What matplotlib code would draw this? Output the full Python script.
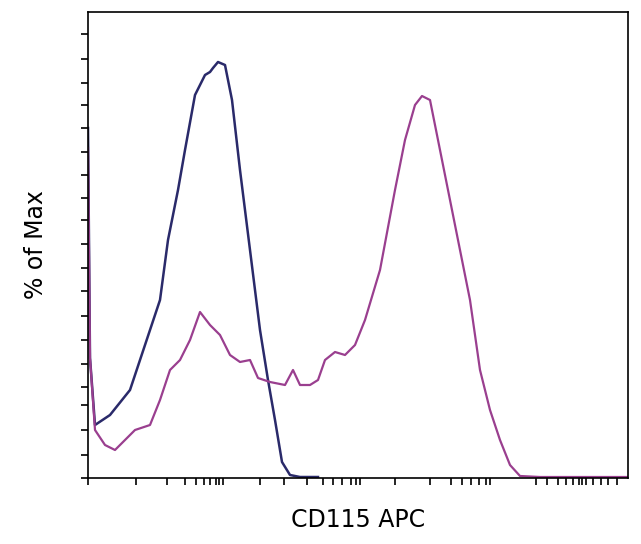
import matplotlib
matplotlib.use('Agg')
import matplotlib.pyplot as plt

# curves (x, y in axis units; 0..540 wide, 0..466 tall)
navy_x = [0, 2, 7, 22, 42, 62, 72, 80, 90, 97, 107, 117, 122, 125, 130, 137, 144, 152, 162, 172, 180, 187, 194, 202, 212, 230]
navy_y = [350, 120, 53, 63, 88, 148, 178, 238, 288, 328, 383, 403, 406, 410, 416, 413, 378, 308, 228, 148, 98, 58, 16, 3, 1, 1]
mag_x = [0, 2, 7, 17, 27, 37, 47, 62, 72, 82, 92, 102, 112, 122, 132, 142, 152, 162, 170, 182, 197, 205, 212, 222, 230, 237, 247, 257, 267,
         277, 292, 307, 317, 327, 334, 342, 352, 362, 372, 382, 392, 402, 412, 422, 432, 452, 540]
mag_y = [330, 120, 48, 33, 28, 38, 48, 53, 78, 108, 118, 138, 166, 153, 143, 123, 116, 118, 100, 96, 93, 108, 93, 93, 98, 118, 126, 123, 133,
         158, 208, 288, 338, 373, 382, 378, 328, 278, 228, 178, 108, 68, 38, 13, 2, 1, 1]

x_ticks = [0, 48, 79, 97, 108, 116, 122, 128, 131, 135, 172, 196, 219, 235, 245, 254, 263, 268, 272,
           307, 342, 363, 374, 383, 391, 398, 402, 448, 459, 470, 478, 485, 491, 494, 498, 505, 513, 520, 529]
y_ticks = [0, 23, 48, 73, 91, 114, 138, 162, 187, 210, 234, 258, 280, 303, 326, 350, 373, 395, 419, 444]

fig = plt.figure(figsize=(6.41, 5.44), dpi=100)
ax = fig.add_axes([88/641, 66/544, 540/641, 466/544])
ax.plot(navy_x, navy_y, color='#2a2a6a', lw=1.8)
ax.plot(mag_x, mag_y, color='#9a3f8f', lw=1.6)
ax.set_xlim(0, 540)
ax.set_ylim(0, 466)
ax.set_xticks(x_ticks)
ax.set_yticks(y_ticks)
ax.set_xticklabels([])
ax.set_yticklabels([])
ax.tick_params(direction='out', length=5, width=1.2)
for s in ax.spines.values():
    s.set_linewidth(1.2)
ax.set_xlabel('CD115 APC', fontsize=17, labelpad=13)
ax.set_ylabel('% of Max', fontsize=17, labelpad=20)

fig.savefig('out.png', dpi=100)
